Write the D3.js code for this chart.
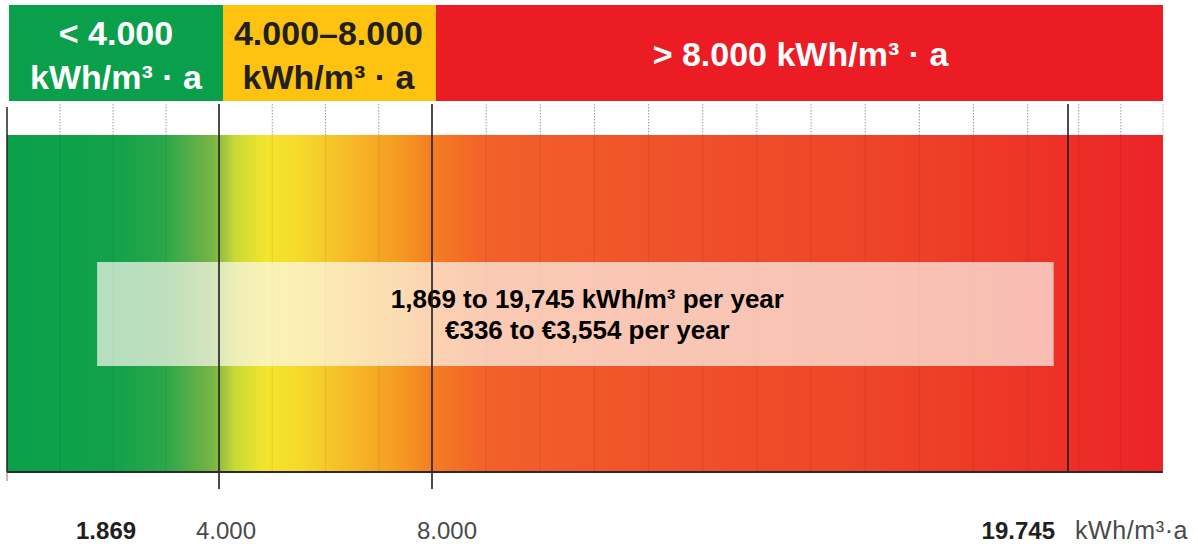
<!DOCTYPE html>
<html>
<head>
<meta charset="utf-8">
<script src="https://cdn.jsdelivr.net/npm/d3@7"></script>
<style>
  html, body { margin: 0; padding: 0; background: #fff; }
  svg { display: block; font-family: "Liberation Sans", Arial, Helvetica, sans-serif; }
</style>
</head>
<body>
<div id="chart"></div>
<script>
// chart values
const bandStarts = [0, 4000, 8000];
const bandEnds = [4000, 8000, 22000];
const bandLines1 = ['< 4.000', '4.000\u20138.000', '> 8.000 kWh/m\u00b3 \u00b7 a'];
const bandLines2 = ['kWh/m\u00b3 \u00b7 a', 'kWh/m\u00b3 \u00b7 a', ''];
const thresholds = [4000, 8000];
const consumptionRange = [1869, 19745];
const costRange = [336, 3554];
const gridValues = d3.range(1000, 22001, 1000);
const tickLabels = ['1.869', '4.000', '8.000', '19.745'];
const unitLabel = 'kWh/m\u00b3\u00b7a';

const width = 1198, height = 544;

// the original graphic is not strictly linear, so the scale is piecewise
const x = d3.scaleLinear()
    .domain([0, 4000, 8000, 19745, 22000])
    .range([7, 219, 432, 1068, 1163]);

const svg = d3.select('#chart').append('svg')
    .attr('width', width)
    .attr('height', height);

const barTop = 135, barBottom = 472;
const headTop = 5, headBottom = 101, stripTop = 104;

// gradient along the value axis
const stops = [
    [0, '#0aa04a'], [2000, '#12a14a'], [3000, '#2ca74a'], [3900, '#7bb546'],
    [4300, '#c9d936'], [4900, '#f4e52d'], [5600, '#f5d72b'], [6600, '#f6b526'],
    [7400, '#f59a22'], [8000, '#f47d22'], [9000, '#f2612a'], [12000, '#f0532a'],
    [16000, '#ee4528'], [19000, '#ed3527'], [22000, '#ec2328']
];
const grad = svg.append('defs').append('linearGradient')
    .attr('id', 'barGrad')
    .attr('gradientUnits', 'userSpaceOnUse')
    .attr('x1', x(0)).attr('x2', x(22000))
    .attr('y1', 0).attr('y2', 0);
grad.selectAll('stop')
    .data(stops)
    .enter().append('stop')
    .attr('offset', d => (x(d[0]) - x(0)) / (x(22000) - x(0)))
    .attr('stop-color', d => d[1]);

// header bands
const bandColors = ['#0aa04b', '#fdc310', '#ec1c24'];
const bandText = ['#ffffff', '#231f20', '#ffffff'];
const bands = bandStarts.map((s, i) => ({ s, e: bandEnds[i], l1: bandLines1[i], l2: bandLines2[i], i }));

const hg = svg.append('g');
hg.selectAll('rect')
    .data(bands)
    .enter().append('rect')
    .attr('x', d => x(d.s) + (d.s > 0 ? 4 : 2))
    .attr('width', d => x(d.e) - x(d.s) - (d.s > 0 ? 4 : 2) + (d.e < 22000 ? 4 : 0))
    .attr('y', headTop)
    .attr('height', headBottom - headTop)
    .attr('fill', (d, i) => bandColors[i]);

hg.selectAll('text.l1')
    .data(bands)
    .enter().append('text')
    .attr('class', 'l1')
    .attr('x', d => (x(d.s) + x(d.e)) / 2 + 3)
    .attr('y', d => d.l2 ? 45 : 66)
    .attr('text-anchor', 'middle')
    .attr('font-size', 34)
    .attr('font-weight', 'bold')
    .attr('fill', (d, i) => bandText[i])
    .text(d => d.l1);

hg.selectAll('text.l2')
    .data(bands.filter(d => d.l2))
    .enter().append('text')
    .attr('class', 'l2')
    .attr('x', d => (x(d.s) + x(d.e)) / 2 + 3)
    .attr('y', 89)
    .attr('text-anchor', 'middle')
    .attr('font-size', 34)
    .attr('font-weight', 'bold')
    .attr('fill', (d, i) => bandText[d.i])
    .text(d => d.l2);

// gradient bar
svg.append('rect')
    .attr('x', x(0))
    .attr('y', barTop)
    .attr('width', x(22000) - x(0))
    .attr('height', barBottom - barTop)
    .attr('fill', 'url(#barGrad)');

// grid lines: dotted in the white strip, faint inside the bar
const minor = gridValues.filter(v => !thresholds.includes(v) && v < 22000 && Math.abs(x(v) - x(consumptionRange[1])) > 8);
svg.append('g').selectAll('line')
    .data(minor)
    .enter().append('line')
    .attr('x1', d => x(d)).attr('x2', d => x(d))
    .attr('y1', stripTop).attr('y2', barTop)
    .attr('stroke', '#9a9a9a')
    .attr('stroke-width', 1)
    .attr('stroke-dasharray', '1.5,1.5');
svg.append('g').selectAll('line')
    .data(minor)
    .enter().append('line')
    .attr('x1', d => x(d)).attr('x2', d => x(d))
    .attr('y1', barTop).attr('y2', barBottom)
    .attr('stroke', '#000')
    .attr('stroke-opacity', 0.07)
    .attr('stroke-width', 1.2);
svg.append('line')
    .attr('x1', x(22000)).attr('x2', x(22000))
    .attr('y1', stripTop).attr('y2', barTop)
    .attr('stroke', '#bbb')
    .attr('stroke-dasharray', '1.5,1.5');

// overlay box with the range text
const boxL = x(1700), boxR = x(19480);
svg.append('rect')
    .attr('x', boxL)
    .attr('y', 262)
    .attr('width', boxR - boxL)
    .attr('height', 104)
    .attr('fill', '#fdf8f0')
    .attr('fill-opacity', 0.7);

const fmt = d3.format(',');
const mid = (boxL + boxR) / 2 + 12;
svg.append('text')
    .attr('x', mid).attr('y', 308)
    .attr('text-anchor', 'middle')
    .attr('font-size', 26)
    .attr('font-weight', 'bold')
    .attr('fill', '#000')
    .text(`${fmt(consumptionRange[0])} to ${fmt(consumptionRange[1])} kWh/m\u00b3 per year`);
svg.append('text')
    .attr('x', mid).attr('y', 339)
    .attr('text-anchor', 'middle')
    .attr('font-size', 26)
    .attr('font-weight', 'bold')
    .attr('fill', '#000')
    .text(`\u20ac${fmt(costRange[0])} to \u20ac${fmt(costRange[1])} per year`);

// solid marker lines: left edge, thresholds and the maximum
svg.append('line')
    .attr('x1', x(0)).attr('x2', x(0))
    .attr('y1', 107).attr('y2', barBottom)
    .attr('stroke', '#222').attr('stroke-width', 1.5);
svg.append('line')
    .attr('x1', x(0)).attr('x2', x(0))
    .attr('y1', barBottom).attr('y2', 481)
    .attr('stroke', '#c9777a').attr('stroke-width', 1.2);
svg.append('g').selectAll('line')
    .data(thresholds)
    .enter().append('line')
    .attr('x1', d => x(d)).attr('x2', d => x(d))
    .attr('y1', stripTop).attr('y2', 489)
    .attr('stroke', '#1f1f24').attr('stroke-width', 1.6);
svg.append('line')
    .attr('x1', x(consumptionRange[1])).attr('x2', x(consumptionRange[1]))
    .attr('y1', stripTop).attr('y2', barBottom)
    .attr('stroke', '#1f1f24').attr('stroke-width', 1.6);

// baseline
svg.append('line')
    .attr('x1', x(0)).attr('x2', x(22000))
    .attr('y1', barBottom).attr('y2', barBottom)
    .attr('stroke', '#2a2a2e').attr('stroke-width', 2);

// axis labels
const labelVals = [consumptionRange[0], thresholds[0], thresholds[1], consumptionRange[1]];
const labelDx = [0, 7, 15, -13];
const labelAnchor = ['middle', 'middle', 'middle', 'end'];
const labelBold = [true, false, false, true];
svg.append('g').selectAll('text')
    .data(labelVals)
    .enter().append('text')
    .attr('x', (d, i) => x(d) + labelDx[i])
    .attr('y', 539)
    .attr('text-anchor', (d, i) => labelAnchor[i])
    .attr('font-size', 24)
    .attr('font-weight', (d, i) => labelBold[i] ? 'bold' : 'normal')
    .attr('fill', (d, i) => labelBold[i] ? '#231f20' : '#4a4a4a')
    .text((d, i) => tickLabels[i]);
svg.append('text')
    .attr('x', x(consumptionRange[1]) + 7)
    .attr('y', 539)
    .attr('font-size', 25)
    .attr('letter-spacing', 0.6)
    .attr('fill', '#4a4a4a')
    .text(unitLabel);
</script>
</body>
</html>
